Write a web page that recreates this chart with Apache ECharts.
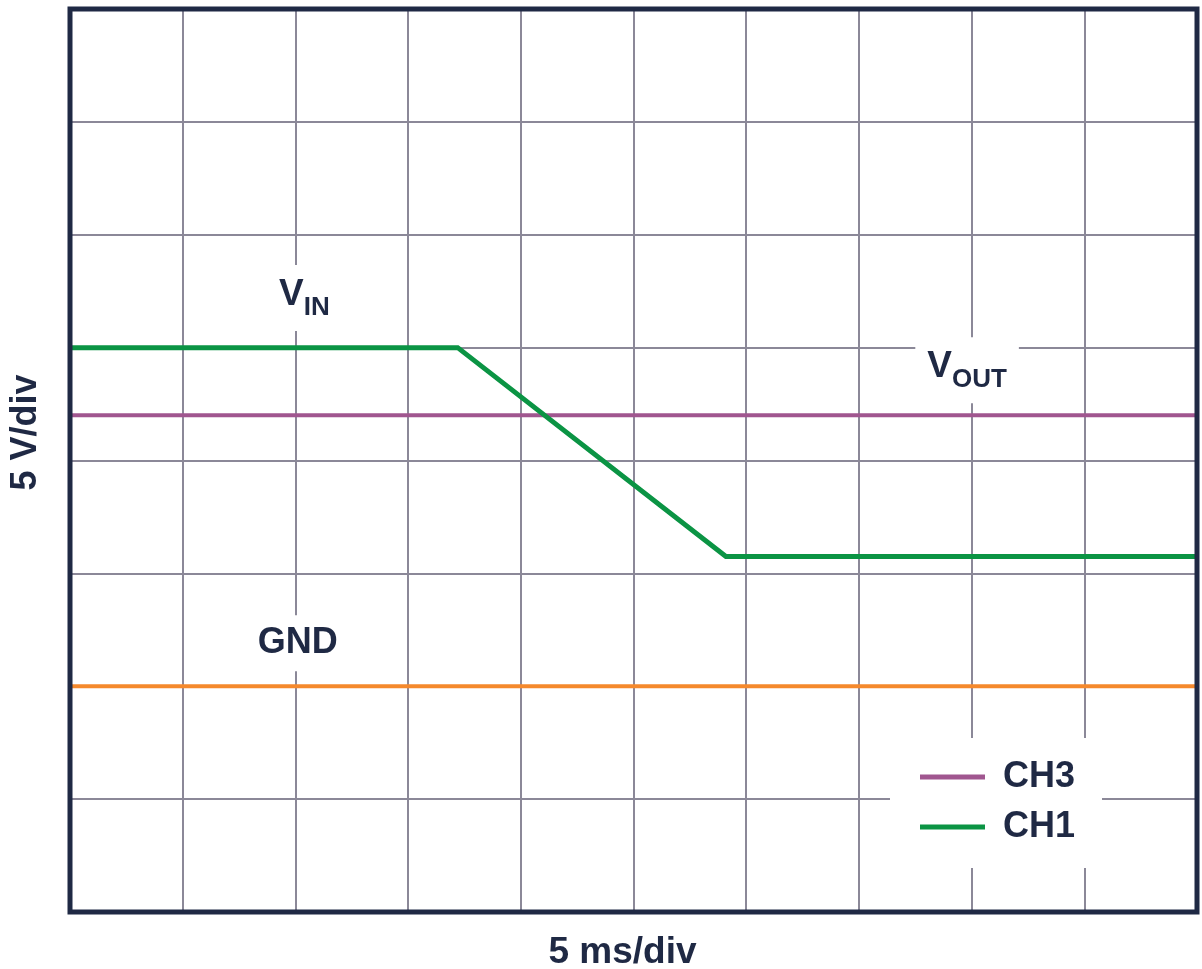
<!DOCTYPE html>
<html>
<head>
<meta charset="utf-8">
<script src="https://cdn.jsdelivr.net/npm/echarts@6/dist/echarts.min.js"></script>
<style>
html,body{margin:0;padding:0;background:#fff;}
#chart{width:1202px;height:969px;}
</style>
</head>
<body>
<div id="chart"></div>
<script>
// time in ms (5 ms/div), voltage in V (5 V/div), GND = 0 V
const xTicks = [0, 5, 10, 15, 20, 25, 30, 35, 40, 45, 50];
const yTicks = [-10, -5, 0, 5, 10, 15, 20, 25, 30];
const ch1Time = [0, 17.2, 29.1, 50];
const ch1Volts = [15, 15, 5.75, 5.75];
const ch3Time = [0, 50];
const ch3Volts = [12, 12];
const gndTime = [0, 50];
const gndVolts = [0, 0];

const NAVY = '#1f2944';
const FONT = 'Liberation Sans';

function pairs(xs, ys) { return xs.map((x, i) => [x, ys[i]]); }

const chart = echarts.init(document.getElementById('chart'), null, {renderer: 'canvas'});

function lbl(coord, formatter, rich) {
  return {
    coord: coord,
    symbol: 'circle', symbolSize: 1, itemStyle: {color: 'rgba(0,0,0,0)'},
    label: {
      show: true, position: 'inside', formatter: formatter,
      backgroundColor: '#fff', padding: [10, 12, 10, 12],
      color: NAVY, fontFamily: FONT, fontWeight: 'bold', fontSize: 36,
      rich: rich
    }
  };
}
const subRich = {
  v: {fontSize: 37, fontWeight: 'bold', color: NAVY, fontFamily: FONT, lineHeight: 46, verticalAlign: 'bottom', padding: [0, 0, 8, 0]},
  s: {fontSize: 26, fontWeight: 'bold', color: NAVY, fontFamily: FONT, lineHeight: 46, verticalAlign: 'bottom', padding: [0, 0, 0, 0]}
};

chart.setOption({
  animation: false,
  backgroundColor: '#fff',
  grid: {left: 70, top: 9, right: 5, bottom: 57, show: true, borderColor: NAVY, borderWidth: 5, backgroundColor: 'transparent', z: 6, outerBoundsMode: 'none', containLabel: false},
  xAxis: {
    type: 'value', min: xTicks[0], max: xTicks[xTicks.length - 1], interval: 5,
    name: '5 ms/div', nameLocation: 'middle', nameGap: 22,
    nameTextStyle: {color: NAVY, fontFamily: FONT, fontWeight: 'bold', fontSize: 37, padding: [0, 22, 0, 0]},
    axisLine: {show: false}, axisTick: {show: false}, axisLabel: {show: false},
    splitLine: {show: true, lineStyle: {color: '#8b8898', width: 2}}
  },
  yAxis: {
    type: 'value', min: yTicks[0], max: yTicks[yTicks.length - 1], interval: 5,
    name: '5 V/div', nameLocation: 'middle', nameGap: 26, nameRotate: 90,
    nameTextStyle: {color: NAVY, fontFamily: FONT, fontWeight: 'bold', fontSize: 36, padding: [0, 0, 0, 56]},
    axisLine: {show: false}, axisTick: {show: false}, axisLabel: {show: false},
    splitLine: {show: true, lineStyle: {color: '#8b8898', width: 2}}
  },
  legend: {
    orient: 'vertical', left: 890, top: 738,
    backgroundColor: '#fff', padding: [21, 27, 23, 30],
    itemWidth: 65, itemHeight: 5, itemGap: 14,
    textStyle: {color: NAVY, fontFamily: FONT, fontWeight: 'bold', fontSize: 36, padding: [0, 0, 0, 13]},
    data: [{name: 'CH3', icon: 'rect'}, {name: 'CH1', icon: 'rect'}]
  },
  series: [
    {
      name: 'GND', type: 'line', data: pairs(gndTime, gndVolts), showSymbol: false,
      color: '#f5892c', lineStyle: {color: '#f5892c', width: 4}, z: 3,
      markPoint: {data: [lbl([10.1, 1.9], 'GND')]}
    },
    {
      name: 'CH3', type: 'line', data: pairs(ch3Time, ch3Volts), showSymbol: false,
      color: '#a0568f', lineStyle: {color: '#a0568f', width: 4}, z: 3,
      markPoint: {data: [lbl([39.8, 14.0], '{v|V}{s|OUT}', subRich)]}
    },
    {
      name: 'CH1', type: 'line', data: pairs(ch1Time, ch1Volts), showSymbol: false,
      color: '#0b9444', lineStyle: {color: '#0b9444', width: 5, join: 'miter'}, z: 4,
      markPoint: {data: [lbl([10.4, 17.2], '{v|V}{s|IN}', subRich)]}
    }
  ]
});
</script>
</body>
</html>
